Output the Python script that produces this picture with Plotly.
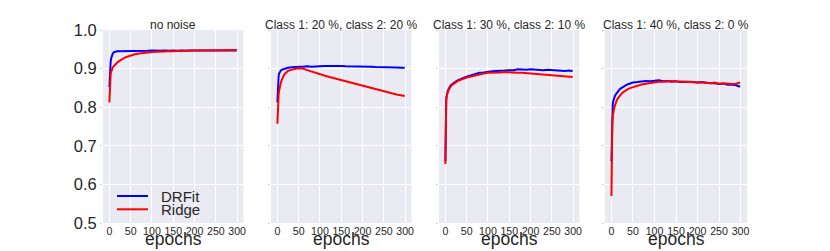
import plotly.graph_objects as go

epochs = [0, 1, 2, 3, 4, 5, 6, 8, 10, 12, 15, 18, 21, 25, 30, 35, 40, 45, 50,
          60, 70, 80, 90, 100, 110, 120, 130, 140, 150, 160, 170, 180, 190, 200,
          210, 220, 230, 240, 250, 260, 270, 280, 290, 299]

titles = ["no noise", "Class 1: 20 %, class 2: 20 %",
          "Class 1: 30 %, class 2: 10 %", "Class 1: 40 %, class 2: 0 %"]
series_names = ["DRFit", "Ridge"]
x_title = "epochs"

drfit_p1 = [0.852, 0.885, 0.905, 0.918, 0.926, 0.931, 0.935, 0.939, 0.942, 0.943, 0.944, 0.945, 0.945, 0.945, 0.945, 0.946, 0.945, 0.946, 0.946,
            0.946, 0.945, 0.946, 0.946, 0.947, 0.946, 0.946, 0.947, 0.946, 0.947, 0.946, 0.947, 0.946, 0.947, 0.947,
            0.946, 0.947, 0.947, 0.946, 0.947, 0.947, 0.946, 0.947, 0.947, 0.947]
ridge_p1 = [0.812, 0.860, 0.878, 0.886, 0.891, 0.895, 0.898, 0.903, 0.906, 0.909, 0.912, 0.915, 0.918, 0.921, 0.925, 0.928, 0.930, 0.932, 0.934,
            0.937, 0.939, 0.941, 0.942, 0.943, 0.944, 0.944, 0.945, 0.945, 0.945, 0.946, 0.946, 0.946, 0.947, 0.947,
            0.947, 0.947, 0.947, 0.947, 0.947, 0.948, 0.947, 0.948, 0.948, 0.948]

drfit_p2 = [0.812, 0.860, 0.875, 0.882, 0.887, 0.890, 0.892, 0.895, 0.897, 0.898, 0.899, 0.900, 0.901, 0.902, 0.903, 0.903, 0.904, 0.904, 0.905,
            0.905, 0.906, 0.905, 0.906, 0.906, 0.907, 0.907, 0.907, 0.908, 0.907, 0.906, 0.906, 0.906, 0.905, 0.905,
            0.905, 0.905, 0.904, 0.904, 0.904, 0.903, 0.903, 0.903, 0.902, 0.902]
ridge_p2 = [0.757, 0.800, 0.822, 0.833, 0.842, 0.850, 0.855, 0.863, 0.870, 0.876, 0.882, 0.887, 0.891, 0.894, 0.896, 0.898, 0.899, 0.900, 0.901,
            0.900, 0.896, 0.892, 0.889, 0.885, 0.882, 0.879, 0.876, 0.874, 0.870, 0.867, 0.865, 0.861, 0.858, 0.855,
            0.853, 0.849, 0.847, 0.844, 0.841, 0.839, 0.836, 0.833, 0.831, 0.829]

drfit_p3 = [0.660, 0.800, 0.822, 0.830, 0.836, 0.840, 0.843, 0.848, 0.853, 0.856, 0.859, 0.862, 0.864, 0.867, 0.870, 0.873, 0.875, 0.877, 0.879,
            0.883, 0.886, 0.889, 0.890, 0.892, 0.893, 0.894, 0.894, 0.895, 0.896, 0.896, 0.898, 0.897, 0.897, 0.898,
            0.897, 0.897, 0.896, 0.897, 0.896, 0.895, 0.895, 0.894, 0.895, 0.894]
ridge_p3 = [0.653, 0.795, 0.818, 0.827, 0.833, 0.837, 0.840, 0.845, 0.850, 0.853, 0.857, 0.860, 0.862, 0.865, 0.868, 0.871, 0.873, 0.875, 0.877,
            0.880, 0.883, 0.886, 0.887, 0.889, 0.889, 0.890, 0.890, 0.891, 0.890, 0.890, 0.889, 0.889, 0.888, 0.887,
            0.887, 0.886, 0.885, 0.885, 0.884, 0.883, 0.882, 0.881, 0.880, 0.878]

drfit_p4 = [0.660, 0.775, 0.795, 0.808, 0.815, 0.820, 0.824, 0.829, 0.833, 0.837, 0.841, 0.845, 0.848, 0.851, 0.855, 0.858, 0.860, 0.862, 0.864,
            0.865, 0.866, 0.868, 0.867, 0.869, 0.870, 0.867, 0.868, 0.866, 0.867, 0.865, 0.866, 0.866, 0.865, 0.864,
            0.865, 0.863, 0.862, 0.862, 0.860, 0.861, 0.858, 0.859, 0.857, 0.853]
ridge_p4 = [0.570, 0.740, 0.765, 0.776, 0.785, 0.791, 0.796, 0.804, 0.812, 0.817, 0.823, 0.828, 0.832, 0.837, 0.841, 0.845, 0.848, 0.850, 0.852,
            0.856, 0.859, 0.861, 0.863, 0.864, 0.866, 0.866, 0.867, 0.868, 0.867, 0.866, 0.866, 0.865, 0.865, 0.864,
            0.864, 0.863, 0.862, 0.864, 0.861, 0.862, 0.861, 0.860, 0.861, 0.864]

drfit_series = [drfit_p1, drfit_p2, drfit_p3, drfit_p4]
ridge_series = [ridge_p1, ridge_p2, ridge_p3, ridge_p4]

x_ticks = [0, 50, 100, 150, 200, 250, 300]
y_ticks = [0.5, 0.6, 0.7, 0.8, 0.9, 1.0]

W, H = 830, 251
panel_px = [(103, 243.5), (271, 411.5), (439, 579.5), (605, 747)]
y_top, y_bot = 30, 223
ydom = [(H - y_bot) / H, (H - y_top) / H]
COLORS = ["#0000FF", "#FF0000"]

FONT = "Liberation Sans, Arial, sans-serif"
TXT = "#262626"
fig = go.Figure()
layout = dict(
    width=W, height=H,
    margin=dict(l=0, r=0, t=0, b=0, autoexpand=False),
    paper_bgcolor="white", plot_bgcolor="#EAEAF2",
    font=dict(family=FONT, color=TXT),
    showlegend=False,
    annotations=[], shapes=[],
)

for i in range(4):
    ax = "" if i == 0 else str(i + 1)
    x0, x1 = panel_px[i]
    layout["xaxis" + ax] = dict(
        domain=[x0 / W, x1 / W], range=[-15, 315], anchor="y" + ax,
        tickvals=x_ticks, ticktext=[str(v) for v in x_ticks],
        showgrid=True, gridcolor="white", gridwidth=1, zeroline=False,
        showline=False, ticks="", tickfont=dict(size=10.6, color=TXT),
        automargin=False,
    )
    layout["yaxis" + ax] = dict(
        domain=ydom, range=[0.5, 1.0], anchor="x" + ax,
        tickvals=y_ticks, ticktext=["%.1f" % v for v in y_ticks],
        showticklabels=(i == 0),
        showgrid=True, gridcolor="white", gridwidth=1, zeroline=False,
        showline=False, ticks="outside", ticklen=2, tickwidth=1, tickcolor="#D0D0D0",
        tickfont=dict(size=16.5, color=TXT),
        automargin=False,
    )
    layout["annotations"].append(dict(
        text=titles[i], x=(x0 + x1) / 2 / W, y=(H - 25) / H, xref="paper", yref="paper",
        xanchor="center", yanchor="middle", showarrow=False,
        font=dict(size=12, color=TXT),
    ))
    layout["annotations"].append(dict(
        text=x_title, x=(x0 + x1) / 2 / W, y=(H - 239) / H, xref="paper", yref="paper",
        xanchor="center", yanchor="middle", showarrow=False,
        font=dict(size=17.5, color=TXT),
    ))
    for s, ser in enumerate([drfit_series[i], ridge_series[i]]):
        fig.add_trace(go.Scatter(x=epochs, y=ser, mode="lines", name=series_names[s],
                                 line=dict(color=COLORS[s], width=2),
                                 xaxis="x" + ax, yaxis="y" + ax))

# legend (drawn manually inside the first panel)
for s, name in enumerate(series_names):
    ly = (H - (196 + 13.3 * s)) / H
    layout["shapes"].append(dict(type="line", xref="paper", yref="paper",
                                 x0=117 / W, x1=148 / W, y0=ly, y1=ly,
                                 line=dict(color=COLORS[s], width=2)))
    layout["annotations"].append(dict(
        text=name, x=159 / W, y=ly, xref="paper", yref="paper",
        xanchor="left", yanchor="middle", showarrow=False,
        font=dict(size=15, color=TXT),
    ))

fig.update_layout(**layout)
fig.write_html("out.html", config={"displayModeBar": False},
               post_script="document.body.style.margin='0';document.body.style.overflow='hidden';")
